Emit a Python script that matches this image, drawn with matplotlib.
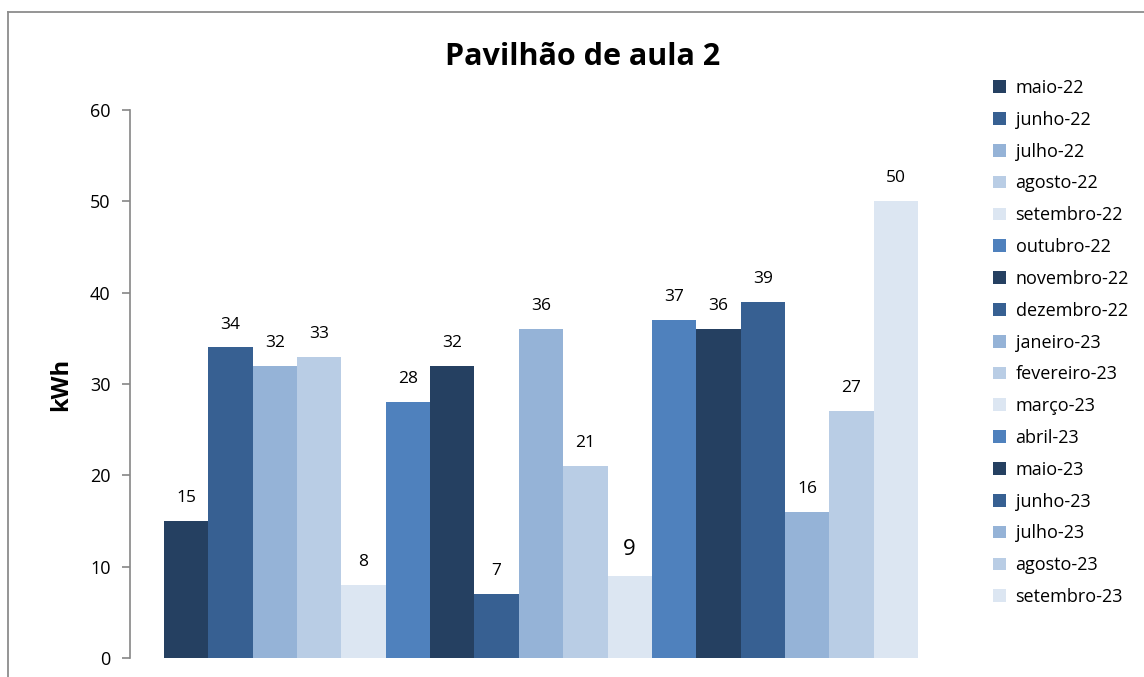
import matplotlib
matplotlib.use("Agg")
import matplotlib.pyplot as plt
from matplotlib.lines import Line2D
from matplotlib.patches import Patch
import numpy as np

# Data
months = ["maio-22", "junho-22", "julho-22", "agosto-22", "setembro-22", "outubro-22",
          "novembro-22", "dezembro-22", "janeiro-23", "fevereiro-23", "março-23",
          "abril-23", "maio-23", "junho-23", "julho-23", "agosto-23", "setembro-23"]
kwh = [15, 34, 32, 33, 8, 28, 32, 7, 36, 21, 9, 37, 36, 39, 16, 27, 50]
palette = ["#254061", "#376092", "#95B3D7", "#B9CDE5", "#DCE6F2", "#4F81BD"]

plt.rcParams["font.family"] = ["Open Sans", "DejaVu Sans"]

W, H = 1144, 677
fig = plt.figure(figsize=(W / 100, H / 100), dpi=100)
ax = fig.add_axes([130 / W, (H - 658) / H, (952 - 130) / W, (658 - 110) / H])

n = len(kwh)
bw = 1.0
x = np.arange(n) * bw
colors = [palette[i % len(palette)] for i in range(n)]
for i in range(n):
    ax.bar(x[i], kwh[i], width=bw, color=colors[i], label=months[i], linewidth=0)
    big = kwh[i] == 9
    ax.annotate(str(kwh[i]), (x[i], kwh[i]), xytext=(0, 19 if big else 16.5),
                textcoords="offset points", ha="center", va="center",
                fontsize=16 if big else 12.5, color="#000000")

pad = 34 / 44.35
ax.set_xlim(x[0] - bw / 2 - pad, x[-1] + bw / 2 + pad)
ax.set_ylim(0, 60)
ax.set_yticks(range(0, 61, 10))
ax.set_xticks([])
for s in ["top", "right", "bottom"]:
    ax.spines[s].set_visible(False)
ax.spines["left"].set_color("#868686")
ax.spines["left"].set_linewidth(1.2)
ax.tick_params(axis="y", length=6, width=1.2, color="#868686", labelsize=13, pad=8)
ax.set_ylabel("kWh", fontsize=17, fontweight="bold", labelpad=12)

fig.text(583 / W, 1 - 57 / H, "Pavilhão de aula 2", ha="center", va="center",
         fontsize=22, fontweight="bold")

handles = [Patch(facecolor=c, edgecolor="none") for c in colors]
fig.legend(handles, months, loc="upper left", bbox_to_anchor=(993 / W, 1 - 79 / H),
           frameon=False, fontsize=13, handlelength=0.7, handleheight=0.7,
           handletextpad=0.55, labelspacing=0.765, borderpad=0, borderaxespad=0)

# chart area border
fig.add_artist(Line2D([8 / W, 8 / W], [1 - 12 / H, 0], color="#8c8c8c", lw=1.3))
fig.add_artist(Line2D([8 / W, 1], [1 - 12 / H, 1 - 12 / H], color="#8c8c8c", lw=1.3))

fig.savefig("out.png", dpi=100)
